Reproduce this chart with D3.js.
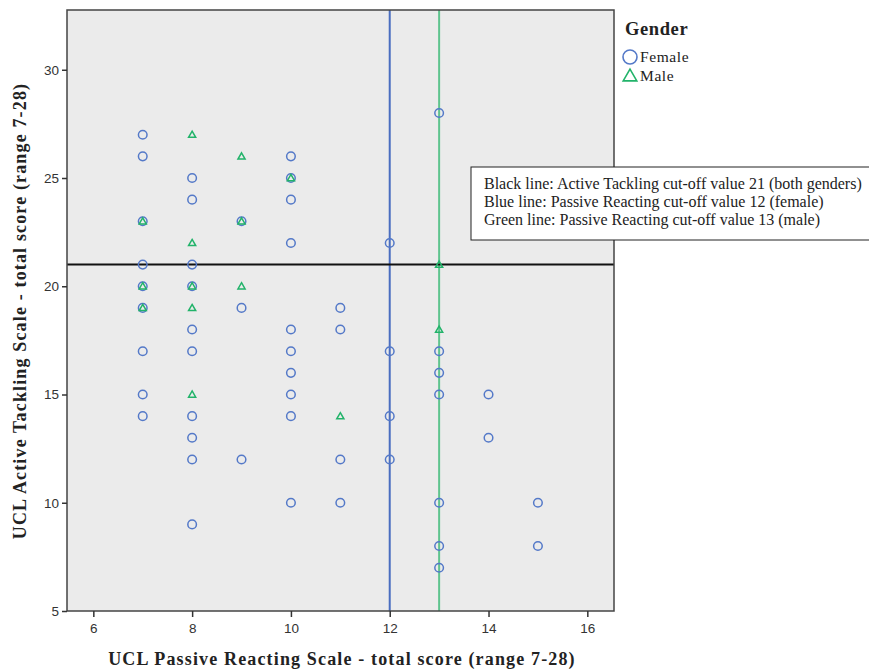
<!DOCTYPE html>
<html><head><meta charset="utf-8">
<script src="https://cdn.jsdelivr.net/npm/d3@7"></script>
<style>body{margin:0;background:#fff}svg{display:block}</style>
</head><body>
<svg id="c" width="869" height="669"></svg>
<script>
const femaleX = [7,7,7,7,7,7,7,7,7, 8,8,8,8,8,8,8,8,8,8, 9,9,9, 10,10,10,10,10,10,10,10,10,10, 11,11,11,11, 12,12,12,12, 13,13,13,13,13,13,13, 14,14, 15,15];
const femaleY = [27,26,23,21,20,19,17,15,14, 25,24,21,20,18,17,14,13,12,9, 23,19,12, 26,25,24,22,18,17,16,15,14,10, 19,18,12,10, 22,17,14,12, 28,17,16,15,10,8,7, 15,13, 10,8];
const maleX = [7,7,7, 8,8,8,8,8, 9,9,9, 10, 11, 13,13];
const maleY = [23,20,19, 27,22,20,19,15, 26,23,20, 25, 14, 21,18];
const xTicks = [6,8,10,12,14,16];
const yTicks = [5,10,15,20,25,30];
const cutAT = 21, cutFemale = 12, cutMale = 13;
const legendLabels = ["Female","Male"];
const noteLines = ["Black line: Active Tackling cut-off value 21 (both genders)",
  "Blue line: Passive Reacting cut-off value 12 (female)",
  "Green line: Passive Reacting cut-off value 13 (male)"];

const svg = d3.select("#c");
const L=67, R=614, T=10, B=611;
const x = d3.scaleLinear().domain([5.467,16.54]).range([L,R]);
const y = d3.scaleLinear().domain([5,32.76]).range([B,T]);
const blue="#5479c8", green="#22b36a";

svg.append("rect").attr("x",L).attr("y",T).attr("width",R-L).attr("height",B-T).attr("fill","#ebebeb");

// cut-off lines
svg.append("line").attr("x1",x(cutFemale)).attr("x2",x(cutFemale)).attr("y1",T).attr("y2",B).attr("stroke","#4a6ec0").attr("stroke-width",2);
svg.append("line").attr("x1",x(cutMale)).attr("x2",x(cutMale)).attr("y1",T).attr("y2",B).attr("stroke","#5fc48e").attr("stroke-width",2);
svg.append("line").attr("x1",L).attr("x2",R).attr("y1",y(cutAT)).attr("y2",y(cutAT)).attr("stroke","#111").attr("stroke-width",2);

// points
const fem = femaleX.map((v,i)=>({x:v,y:femaleY[i]}));
const mal = maleX.map((v,i)=>({x:v,y:maleY[i]}));
svg.append("g").selectAll("circle").data(fem).join("circle")
  .attr("cx",d=>x(d.x)).attr("cy",d=>y(d.y)).attr("r",4.3)
  .attr("fill","none").attr("stroke",blue).attr("stroke-width",1.5);
const tri = d3.symbol().type(d3.symbolTriangle).size(22);
svg.append("g").selectAll("path").data(mal).join("path")
  .attr("d",tri).attr("transform",d=>`translate(${x(d.x)},${y(d.y)+0.6})`)
  .attr("fill","none").attr("stroke",green).attr("stroke-width",1.5);

// frame
svg.append("rect").attr("x",L).attr("y",T).attr("width",R-L).attr("height",B-T).attr("fill","none").attr("stroke","#444").attr("stroke-width",1.5);

// axes
const xa = svg.append("g").attr("transform",`translate(0,${B})`)
  .call(d3.axisBottom(x).tickValues(xTicks).tickSize(6).tickPadding(6).tickSizeOuter(0));
xa.select(".domain").remove();
const ya = svg.append("g").attr("transform",`translate(${L},0)`)
  .call(d3.axisLeft(y).tickValues(yTicks).tickSize(5).tickPadding(3).tickSizeOuter(0));
ya.select(".domain").remove();
svg.selectAll(".tick line").attr("stroke","#333").attr("stroke-width",1.5);
svg.selectAll(".tick text").attr("font-family","Liberation Sans, Arial, sans-serif").attr("font-size",13.5).attr("fill","#333");

// axis titles
svg.append("text").attr("x",342).attr("y",665).attr("text-anchor","middle")
  .attr("font-family","Liberation Serif, serif").attr("font-weight","bold").attr("font-size",18).attr("letter-spacing",1.15).attr("fill","#222")
  .text("UCL Passive Reacting Scale - total score (range 7-28)");
svg.append("text").attr("transform","translate(26,311) rotate(-90)").attr("text-anchor","middle")
  .attr("font-family","Liberation Serif, serif").attr("font-weight","bold").attr("font-size",18).attr("letter-spacing",1.15).attr("fill","#222")
  .text("UCL Active Tackling Scale - total score (range 7-28)");

// legend
svg.append("text").attr("x",625).attr("y",35).attr("font-family","Liberation Serif, serif").attr("font-weight","bold").attr("font-size",18.5).attr("letter-spacing",0.6).attr("fill","#222").text("Gender");
svg.append("circle").attr("cx",630).attr("cy",57).attr("r",7).attr("fill","none").attr("stroke",blue).attr("stroke-width",1.6);
svg.append("path").attr("d",d3.symbol().type(d3.symbolTriangle).size(80)).attr("transform","translate(630,77)").attr("fill","none").attr("stroke",green).attr("stroke-width",1.6);
svg.selectAll(".leg").data(legendLabels).join("text").attr("class","leg")
  .attr("x",640).attr("y",(d,i)=>62+i*19).attr("font-family","Liberation Serif, serif").attr("font-size",15.5).attr("letter-spacing",0.6).attr("fill","#222").text(d=>d);

// note box
svg.append("rect").attr("x",471).attr("y",167).attr("width",420).attr("height",73).attr("fill","#fff").attr("stroke","#222").attr("stroke-width",1);
svg.selectAll(".note").data(noteLines).join("text").attr("class","note")
  .attr("x",484).attr("y",(d,i)=>189+i*18).attr("font-family","Liberation Serif, serif").attr("font-size",16).attr("fill","#222").text(d=>d);
</script>
</body></html>
